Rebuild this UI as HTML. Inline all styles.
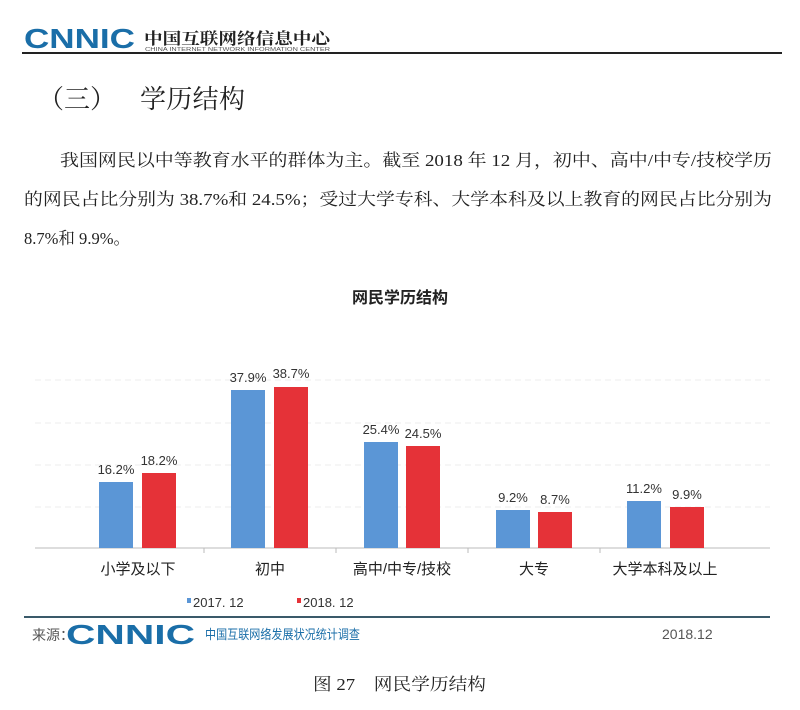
<!DOCTYPE html>
<html><head><meta charset="utf-8"><style>
body{margin:0;width:800px;height:710px;background:#fff;overflow:hidden;font-family:"Liberation Serif","Noto Serif CJK SC",serif;}
</style></head><body>
<svg style="position:absolute;left:0;top:0" width="800" height="710" font-family="Liberation Sans,Noto Sans CJK SC,sans-serif">
<text x="24" y="48" font-size="28" font-weight="bold" fill="#1a6ea8" textLength="111" lengthAdjust="spacingAndGlyphs">CNNIC</text>
<text x="144" y="44" font-size="16" font-weight="bold" fill="#222" font-family="Noto Serif CJK SC,serif" textLength="186" lengthAdjust="spacingAndGlyphs">中国互联网络信息中心</text>
<text x="145" y="51" font-size="5" fill="#555" textLength="185" lengthAdjust="spacingAndGlyphs">CHINA INTERNET NETWORK INFORMATION CENTER</text>
<rect x="22" y="52" width="760" height="2" fill="#222"/>
<g font-family="Liberation Serif,Noto Serif CJK SC,serif" fill="#222">
<text x="38" y="108" font-size="26">（三）</text>
<text x="140" y="108" font-size="26" textLength="105">学历结构</text>
<text x="60" y="166" font-size="17" textLength="712" lengthAdjust="spacingAndGlyphs">我国网民以中等教育水平的群体为主。截至 2018 年 12 月，初中、高中/中专/技校学历</text>
<text x="24" y="205" font-size="17" textLength="748" lengthAdjust="spacingAndGlyphs">的网民占比分别为 38.7%和 24.5%；受过大学专科、大学本科及以上教育的网民占比分别为</text>
<text x="24" y="244" font-size="17" textLength="106" lengthAdjust="spacingAndGlyphs">8.7%和 9.9%。</text>
<text x="313" y="690" font-size="17" textLength="173" lengthAdjust="spacingAndGlyphs">图 27　网民学历结构</text>
</g>
<text x="400" y="303" text-anchor="middle" font-size="16" font-weight="bold" fill="#222">网民学历结构</text>
<g stroke="#ededed" stroke-dasharray="6,4"><line x1="35" y1="380" x2="770" y2="380"/><line x1="35" y1="423" x2="770" y2="423"/><line x1="35" y1="465" x2="770" y2="465"/><line x1="35" y1="507" x2="770" y2="507"/></g>
<line x1="35" y1="548" x2="770" y2="548" stroke="#bbb"/>
<g stroke="#bbb"><line x1="204" y1="548" x2="204" y2="553"/><line x1="336" y1="548" x2="336" y2="553"/><line x1="468" y1="548" x2="468" y2="553"/><line x1="600" y1="548" x2="600" y2="553"/></g>
<g fill="#5b96d6"><rect x="99" y="482" width="34" height="66"/><rect x="231" y="390" width="34" height="158"/><rect x="364" y="442" width="34" height="106"/><rect x="496" y="510" width="34" height="38"/><rect x="627" y="501" width="34" height="47"/></g>
<g fill="#e53238"><rect x="142" y="473" width="34" height="75"/><rect x="274" y="387" width="34" height="161"/><rect x="406" y="446" width="34" height="102"/><rect x="538" y="512" width="34" height="36"/><rect x="670" y="507" width="34" height="41"/></g>
<g font-size="13" fill="#333" text-anchor="middle">
<text x="116" y="474">16.2%</text><text x="159" y="465">18.2%</text>
<text x="248" y="382">37.9%</text><text x="291" y="378">38.7%</text>
<text x="381" y="434">25.4%</text><text x="423" y="438">24.5%</text>
<text x="513" y="502">9.2%</text><text x="555" y="504">8.7%</text>
<text x="644" y="493">11.2%</text><text x="687" y="499">9.9%</text>
</g>
<g font-size="15" fill="#222" text-anchor="middle">
<text x="138" y="574">小学及以下</text><text x="270" y="574">初中</text><text x="402" y="574">高中/中专/技校</text><text x="534" y="574">大专</text><text x="665" y="574">大学本科及以上</text>
</g>
<rect x="187" y="598" width="4" height="5" fill="#5b96d6"/><text x="193" y="607" font-size="13" fill="#333">2017. 12</text>
<rect x="297" y="598" width="4" height="5" fill="#e53238"/><text x="303" y="607" font-size="13" fill="#333">2018. 12</text>
<line x1="24" y1="617" x2="770" y2="617" stroke="#3a5a6a" stroke-width="2"/>
<text x="32" y="640" font-size="14" fill="#555">来源：</text>
<text x="66" y="644" font-size="28" font-weight="bold" fill="#1a6ea8" textLength="129" lengthAdjust="spacingAndGlyphs">CNNIC</text>
<text x="205" y="639" font-size="13" fill="#1a6ea8" textLength="155" lengthAdjust="spacingAndGlyphs">中国互联网络发展状况统计调查</text>
<text x="662" y="639" font-size="14" fill="#555">2018.12</text>
</svg>
</body></html>
